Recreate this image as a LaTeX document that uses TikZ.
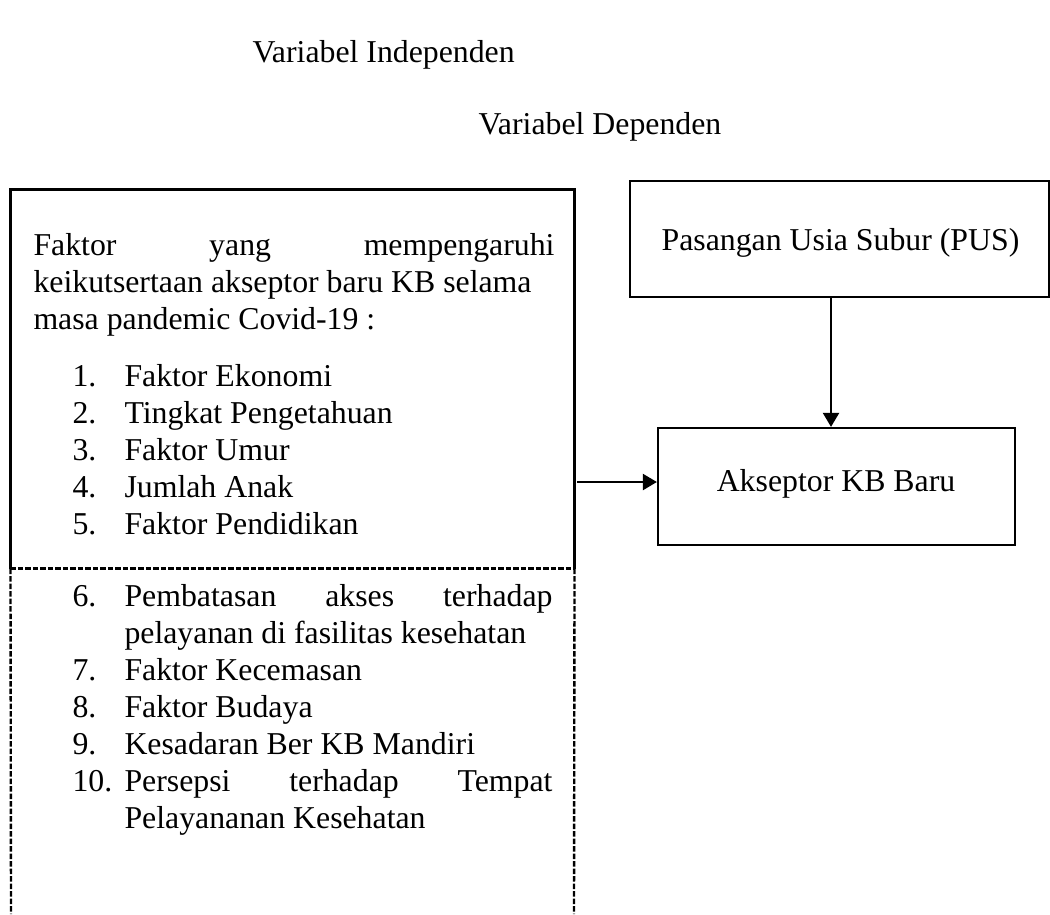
\documentclass[tikz,border=0pt]{standalone}
\usepackage{fontspec}
\setmainfont{Liberation Serif}
\usetikzlibrary{arrows.meta}
\begin{document}
\begin{tikzpicture}[x=0.4pt,y=-0.4pt,
  txt/.style={anchor=base west, inner sep=0pt, font=\fontsize{12.72}{15}\selectfont},
  ctxt/.style={anchor=base, inner sep=0pt, font=\fontsize{12.72}{15}\selectfont},
  boxline/.style={line width=0.9pt},
  dashline/.style={line width=0.95pt, dash pattern=on 2.2pt off 0.8pt},
  arr/.style={line width=0.9pt, -{Triangle[length=5.6pt,width=6.4pt]}},
  frame/.style={draw, line width=0.9pt, inner sep=0pt}]
\useasboundingbox (0,0) rectangle (1050,914);

% titles
\node[txt] (tind) at (252,62) {Variabel Independen};
\node[txt] (tdep) at (478,134) {Variabel Dependen};

% left box (solid top part, dashed lower part)
\node[inner sep=0pt, minimum width=225.2pt, minimum height=151.2pt] (L) at (292.5,379) {};
\coordinate (LEL) at (11,914);
\coordinate (LER) at (574,914);
\draw[boxline] (L.south west) -- (L.north west) -- (L.north east) -- (L.south east);
\draw[dashline] (L.south west) -- (L.south east);
\draw[dashline] (L.south west) -- (LEL);
\draw[dashline] (L.south east) -- (LER);

% paragraph
\node[txt] (p1) at (33,255) {\makebox[208.4pt][l]{Faktor\hfill yang\hfill mempengaruhi}};
\node[txt] (p2) at (33,292) {keikutsertaan akseptor baru KB selama};
\node[txt] (p3) at (33,329) {masa pandemic Covid-19 :};

% list
\node[txt] (n1) at (72,386) {1.};  \node[txt] (i1) at (124,386) {Faktor Ekonomi};
\node[txt] (n2) at (72,423) {2.};  \node[txt] (i2) at (124,423) {Tingkat Pengetahuan};
\node[txt] (n3) at (72,460) {3.};  \node[txt] (i3) at (124,460) {Faktor Umur};
\node[txt] (n4) at (72,497) {4.};  \node[txt] (i4) at (124,497) {Jumlah Anak};
\node[txt] (n5) at (72,534) {5.};  \node[txt] (i5) at (124,534) {Faktor Pendidikan};
\node[txt] (n6) at (72,606) {6.};  \node[txt] (i6) at (124,606) {\makebox[171.2pt][l]{Pembatasan\hfill akses\hfill terhadap}};
\node[txt] (i6b) at (124,643) {pelayanan di fasilitas kesehatan};
\node[txt] (n7) at (72,680) {7.};  \node[txt] (i7) at (124,680) {Faktor Kecemasan};
\node[txt] (n8) at (72,717) {8.};  \node[txt] (i8) at (124,717) {Faktor Budaya};
\node[txt] (n9) at (72,754) {9.};  \node[txt] (i9) at (124,754) {Kesadaran Ber KB Mandiri};
\node[txt] (n10) at (72,791) {10.}; \node[txt] (i10) at (124,791) {\makebox[171.2pt][l]{Persepsi\hfill terhadap\hfill Tempat}};
\node[txt] (i10b) at (124,828) {Pelayananan Kesehatan};

% right boxes
\node[frame, minimum width=167.6pt, minimum height=46.4pt] (P) at (839.5,239) {};
\node[ctxt] (ptxt) at (840.5,250) {Pasangan Usia Subur (PUS)};
\node[frame, minimum width=142.8pt, minimum height=46.8pt] (A) at (836.5,486.5) {};
\node[ctxt] (atxt) at (836,491) {Akseptor KB Baru};

% connectors
\coordinate (vx) at (831,0);
\coordinate (hy) at (0,482);
\draw[arr] (P.south -| vx) -- (A.north -| vx);
\draw[arr] ([xshift=1pt]L.east |- hy) -- (A.west |- hy);
\end{tikzpicture}
\end{document}
